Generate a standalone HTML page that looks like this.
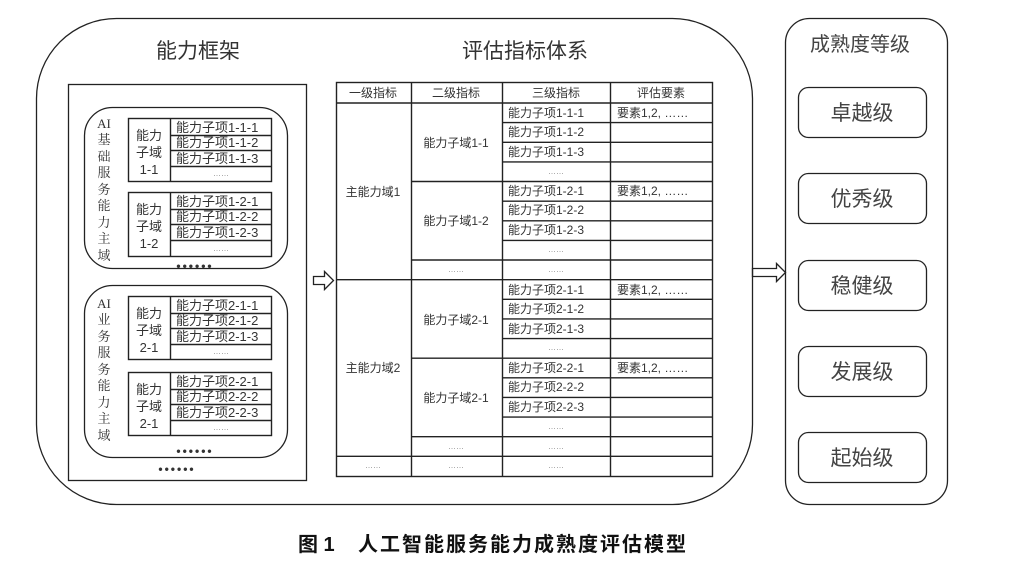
<!DOCTYPE html>
<html><head><meta charset="utf-8">
<style>
html,body{margin:0;padding:0;background:#fff;}
svg{display:block;}
text{font-family:"Liberation Sans","Noto Sans CJK SC",sans-serif;fill:#333;}
.s{font-family:"Liberation Serif","Noto Serif CJK SC",serif;}
</style></head><body>
<svg width="1021" height="567" viewBox="0 0 1021 567" xmlns="http://www.w3.org/2000/svg">
<g fill="none" stroke="#222" stroke-width="1.3">
<rect x="36.5" y="18.5" width="716" height="486" rx="80" ry="80"/>
<rect x="785.5" y="18.5" width="162" height="486" rx="24" ry="24"/>
<rect x="68.5" y="84.5" width="238" height="396"/>
<rect x="84.5" y="107.5" width="203" height="161" rx="28" ry="28"/>
<rect x="84.5" y="285.5" width="203" height="172" rx="28" ry="28"/>
<rect x="798.5" y="87.5" width="128" height="50" rx="10"/>
<rect x="798.5" y="173.5" width="128" height="50" rx="10"/>
<rect x="798.5" y="260.5" width="128" height="50" rx="10"/>
<rect x="798.5" y="346.5" width="128" height="50" rx="10"/>
<rect x="798.5" y="432.5" width="128" height="50" rx="10"/>
<path d="M313.5 276.5 H324.5 V271.5 L333.5 280.5 L324.5 289.5 V284.5 H313.5 Z"/>
<path d="M752.5 268.5 H776.5 V263.5 L785.5 272.5 L776.5 281.5 V276.5 H752.5 Z"/>
</g>
<g fill="none" stroke="#222" stroke-width="1.4">
<rect x="128.5" y="118.5" width="143" height="63"/><line x1="170.5" y1="118" x2="170.5" y2="181"/>
<line x1="170" y1="135.5" x2="271" y2="135.5"/><line x1="170" y1="150.5" x2="271" y2="150.5"/><line x1="170" y1="166.5" x2="271" y2="166.5"/>
<rect x="128.5" y="192.5" width="143" height="64"/><line x1="170.5" y1="192" x2="170.5" y2="256"/>
<line x1="170" y1="209.5" x2="271" y2="209.5"/><line x1="170" y1="224.5" x2="271" y2="224.5"/><line x1="170" y1="240.5" x2="271" y2="240.5"/>
<rect x="128.5" y="296.5" width="143" height="63"/><line x1="170.5" y1="296" x2="170.5" y2="359"/>
<line x1="170" y1="313.5" x2="271" y2="313.5"/><line x1="170" y1="328.5" x2="271" y2="328.5"/><line x1="170" y1="344.5" x2="271" y2="344.5"/>
<rect x="128.5" y="372.5" width="143" height="63"/><line x1="170.5" y1="372" x2="170.5" y2="435"/>
<line x1="170" y1="389.5" x2="271" y2="389.5"/><line x1="170" y1="404.5" x2="271" y2="404.5"/><line x1="170" y1="420.5" x2="271" y2="420.5"/>
</g>
<g stroke="#222" stroke-width="1.4">
<rect x="336.5" y="82.5" width="376" height="394" fill="none"/>
<line x1="411.5" y1="82" x2="411.5" y2="476"/><line x1="502.5" y1="82" x2="502.5" y2="476"/><line x1="610.5" y1="82" x2="610.5" y2="476"/>
<line x1="336" y1="103" x2="712" y2="103"/>
<line x1="502" y1="122.6" x2="712" y2="122.6"/><line x1="502" y1="142.3" x2="712" y2="142.3"/><line x1="502" y1="161.9" x2="712" y2="161.9"/>
<line x1="411" y1="181.5" x2="712" y2="181.5"/>
<line x1="502" y1="201.2" x2="712" y2="201.2"/><line x1="502" y1="220.8" x2="712" y2="220.8"/><line x1="502" y1="240.4" x2="712" y2="240.4"/>
<line x1="411" y1="260" x2="712" y2="260"/>
<line x1="336" y1="279.7" x2="712" y2="279.7"/>
<line x1="502" y1="299.3" x2="712" y2="299.3"/><line x1="502" y1="318.9" x2="712" y2="318.9"/><line x1="502" y1="338.6" x2="712" y2="338.6"/>
<line x1="411" y1="358.2" x2="712" y2="358.2"/>
<line x1="502" y1="377.8" x2="712" y2="377.8"/><line x1="502" y1="397.4" x2="712" y2="397.4"/><line x1="502" y1="417.1" x2="712" y2="417.1"/>
<line x1="411" y1="436.7" x2="712" y2="436.7"/>
<line x1="336" y1="456.3" x2="712" y2="456.3"/>
</g>
<text x="198" y="58" font-size="21" text-anchor="middle">能力框架</text>
<text x="525" y="58" font-size="21" text-anchor="middle">评估指标体系</text>
<text x="860" y="51" font-size="20" text-anchor="middle" style="fill:#444">成熟度等级</text>
<g font-size="21" text-anchor="middle" style="fill:#444">
<text x="862" y="120" style="fill:#444">卓越级</text><text x="862" y="206" style="fill:#444">优秀级</text><text x="862" y="293" style="fill:#444">稳健级</text><text x="862" y="379" style="fill:#444">发展级</text><text x="862" y="465" style="fill:#444">起始级</text>
</g>
<g font-size="13" text-anchor="middle">
<text class="s" x="104" y="128">AI</text><text class="s" x="104" y="144">基</text><text class="s" x="104" y="161">础</text><text class="s" x="104" y="177">服</text><text class="s" x="104" y="194">务</text><text class="s" x="104" y="210">能</text><text class="s" x="104" y="227">力</text><text class="s" x="104" y="243">主</text><text class="s" x="104" y="260">域</text>
<text class="s" x="104" y="308">AI</text><text class="s" x="104" y="324">业</text><text class="s" x="104" y="341">务</text><text class="s" x="104" y="357">服</text><text class="s" x="104" y="374">务</text><text class="s" x="104" y="390">能</text><text class="s" x="104" y="407">力</text><text class="s" x="104" y="423">主</text><text class="s" x="104" y="440">域</text>
</g>
<g font-size="13" text-anchor="middle">
<text x="149" y="140">能力</text><text x="149" y="157">子域</text><text x="149" y="174">1-1</text>
<text x="149" y="214">能力</text><text x="149" y="231">子域</text><text x="149" y="248">1-2</text>
<text x="149" y="318">能力</text><text x="149" y="335">子域</text><text x="149" y="352">2-1</text>
<text x="149" y="394">能力</text><text x="149" y="411">子域</text><text x="149" y="428">2-1</text>
</g>
<g font-size="13">
<text x="176" y="132">能力子项1-1-1</text><text x="176" y="147">能力子项1-1-2</text><text x="176" y="163">能力子项1-1-3</text>
<text x="176" y="206">能力子项1-2-1</text><text x="176" y="221">能力子项1-2-2</text><text x="176" y="237">能力子项1-2-3</text>
<text x="176" y="310">能力子项2-1-1</text><text x="176" y="325">能力子项2-1-2</text><text x="176" y="341">能力子项2-1-3</text>
<text x="176" y="386">能力子项2-2-1</text><text x="176" y="401">能力子项2-2-2</text><text x="176" y="417">能力子项2-2-3</text>
</g>
<g font-size="8" text-anchor="middle" style="fill:#888">
<text x="221" y="176" style="fill:#888">……</text><text x="221" y="251" style="fill:#888">……</text><text x="221" y="354" style="fill:#888">……</text><text x="221" y="430" style="fill:#888">……</text>
</g>
<g font-size="12" text-anchor="middle" font-weight="bold" letter-spacing="2">
<text x="195" y="270">••••••</text><text x="195" y="455">••••••</text><text x="177" y="473">••••••</text>
</g>
<g font-size="12" text-anchor="middle">
<text x="373" y="97">一级指标</text><text x="456" y="97">二级指标</text><text x="556" y="97">三级指标</text><text x="661" y="97">评估要素</text>
<text x="373" y="196">主能力域1</text><text x="373" y="372">主能力域2</text>
<text x="456" y="147">能力子域1-1</text><text x="456" y="225">能力子域1-2</text>
<text x="456" y="324">能力子域2-1</text><text x="456" y="402">能力子域2-1</text>
</g>
<g font-size="12">
<text x="508" y="117">能力子项1-1-1</text><text x="508" y="136">能力子项1-1-2</text><text x="508" y="156">能力子项1-1-3</text>
<text x="508" y="195">能力子项1-2-1</text><text x="508" y="214">能力子项1-2-2</text><text x="508" y="234">能力子项1-2-3</text>
<text x="508" y="294">能力子项2-1-1</text><text x="508" y="313">能力子项2-1-2</text><text x="508" y="333">能力子项2-1-3</text>
<text x="508" y="372">能力子项2-2-1</text><text x="508" y="391">能力子项2-2-2</text><text x="508" y="411">能力子项2-2-3</text>
<text x="617" y="117">要素1,2, ……</text><text x="617" y="195">要素1,2, ……</text><text x="617" y="294">要素1,2, ……</text><text x="617" y="372">要素1,2, ……</text>
</g>
<g font-size="8" text-anchor="middle">
<text x="556" y="174" style="fill:#888">……</text><text x="556" y="252" style="fill:#888">……</text><text x="456" y="272" style="fill:#888">……</text><text x="556" y="272" style="fill:#888">……</text>
<text x="556" y="350" style="fill:#888">……</text><text x="556" y="429" style="fill:#888">……</text><text x="456" y="449" style="fill:#888">……</text><text x="556" y="449" style="fill:#888">……</text>
<text x="373" y="468" style="fill:#888">……</text><text x="456" y="468" style="fill:#888">……</text><text x="556" y="468" style="fill:#888">……</text>
</g>
<text x="298" y="551" font-size="20" font-weight="bold" style="fill:#111">图 1</text>
<text x="358" y="551" font-size="20" font-weight="bold" style="fill:#111" textLength="328" lengthAdjust="spacing">人工智能服务能力成熟度评估模型</text>
</svg>
</body></html>
